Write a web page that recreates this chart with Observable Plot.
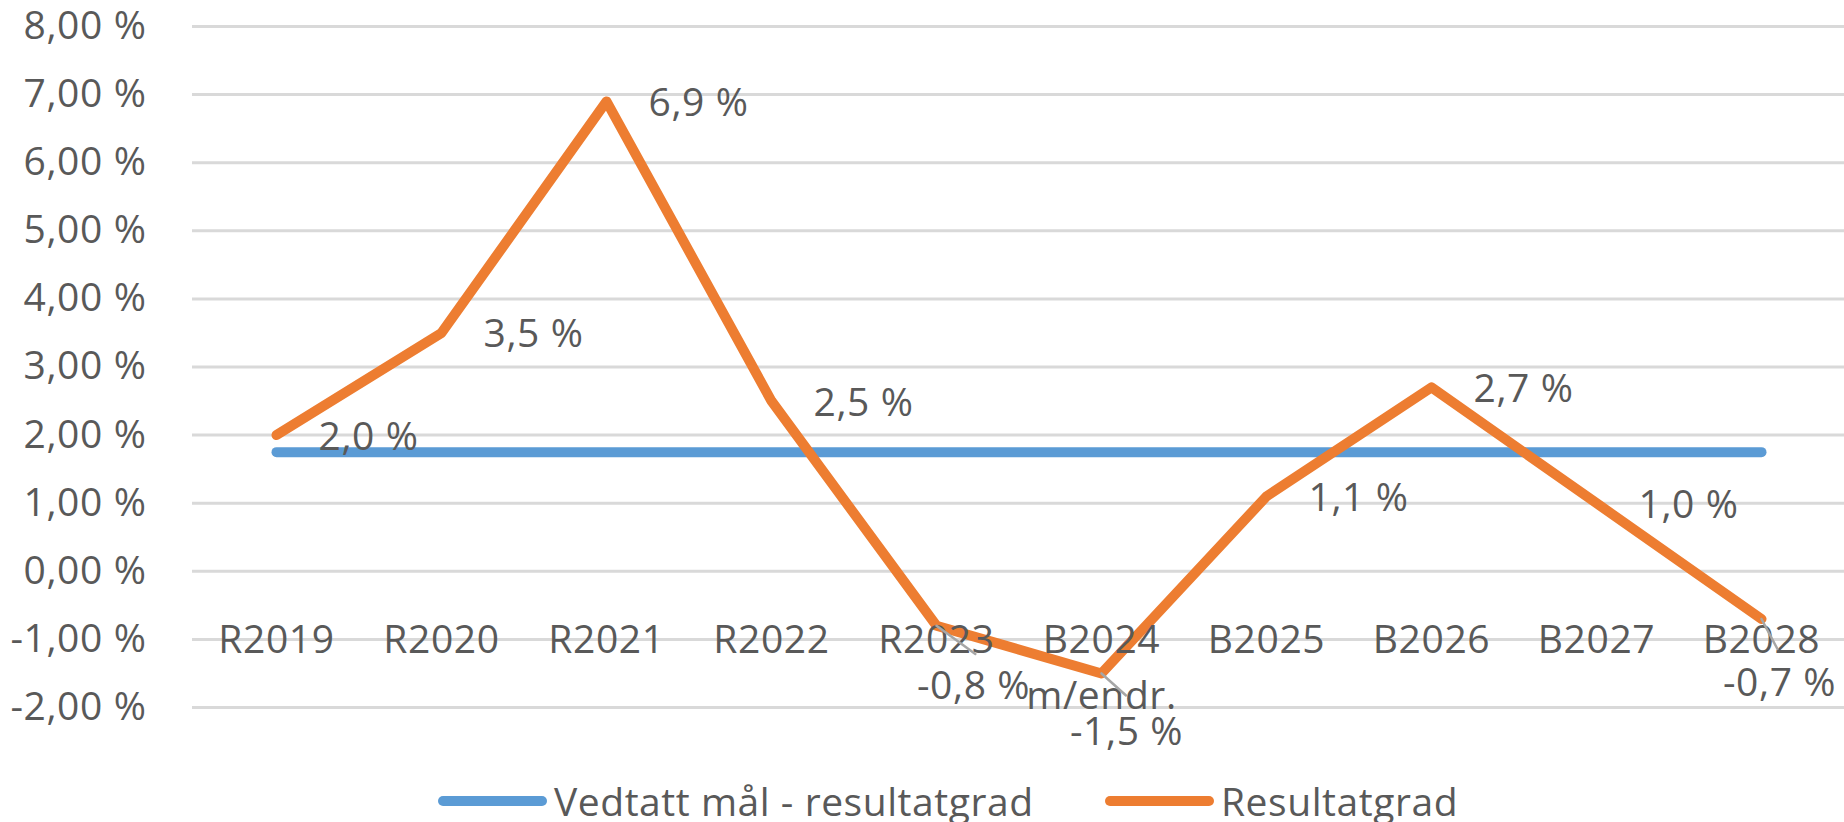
<!DOCTYPE html>
<html>
<head>
<meta charset="utf-8">
<script src="https://cdn.jsdelivr.net/npm/d3@7"></script>
<script src="https://cdn.jsdelivr.net/npm/@observablehq/plot@0.6"></script>
<style>
  html, body { margin: 0; padding: 0; background: #fff; }
  #wrap { position: relative; width: 1844px; height: 822px; font-family: "Open Sans", sans-serif; }
  .legend { position: absolute; top: 782px; left: 0; width: 1844px; height: 38px; font-size: 39px; line-height: 38px; color: #595959; letter-spacing: 0.55px; }
  .item { position: absolute; top: 0; height: 38px; display: flex; align-items: center; white-space: nowrap; }
  .swatch { display: inline-block; width: 109px; height: 10px; border-radius: 5px; margin-right: 7px; }
</style>
</head>
<body>
<div id="wrap">
  <div id="chart"></div>
  <div class="legend" id="legend"></div>
</div>
<script>
// ---- data ----
const categories = ["R2019", "R2020", "R2021", "R2022", "R2023", "B2024", "B2025", "B2026", "B2027", "B2028"];
const categoryLabels = ["R2019", "R2020", "R2021", "R2022", "R2023", "B2024\nm/endr.", "B2025", "B2026", "B2027", "B2028"];
const resultatgrad = [2.0, 3.5, 6.9, 2.5, -0.8, -1.5, 1.1, 2.7, 1.0, -0.7];
const vedtattMaal = [1.75, 1.75, 1.75, 1.75, 1.75, 1.75, 1.75, 1.75, 1.75, 1.75];
const yTicks = [-2, -1, 0, 1, 2, 3, 4, 5, 6, 7, 8];
const seriesNames = ["Vedtatt mål - resultatgrad", "Resultatgrad"];
const seriesColors = ["#5B9BD5", "#ED7D31"];

// ---- derived tables ----
const target = categories.map((c, i) => ({cat: c, value: vedtattMaal[i]}));
const result = categories.map((c, i) => ({cat: c, value: resultatgrad[i]}));

const fmtAxis = v => v.toFixed(2).replace(".", ",") + " %";
const fmtLabel = v => v.toFixed(1).replace(".", ",") + " %";

// label placement (styling): labels moved below the point, with leader lines
const belowNudge = {
  "R2023": {dx: 37, dy: 61, len: 48, rot: 126},
  "B2024": {dx: 25, dy: 59, len: 33, rot: 132},
  "B2028": {dx: 18, dy: 65, len: 34, rot: 152}
};

const lineShape = {
  draw(context, length) {
    context.moveTo(0, 0);
    context.lineTo(0, -length);
  }
};

const FS = 39;
const TXT = "#595959";

const marks = [
  Plot.ruleY(yTicks, {stroke: "#d9d9d9", strokeWidth: 3}),
  Plot.axisY(yTicks, {tickSize: 0, tickPadding: 46, tickFormat: fmtAxis, fontSize: FS, fill: TXT, label: null}),
  Plot.line(target, {x: "cat", y: "value", stroke: seriesColors[0], strokeWidth: 10, strokeLinecap: "round", strokeLinejoin: "round"}),
  Plot.line(result, {x: "cat", y: "value", stroke: seriesColors[1], strokeWidth: 10, strokeLinecap: "round", strokeLinejoin: "round"}),
  Plot.text(categories, {
    x: d => d, y: 0, text: (d, i) => categoryLabels[i],
    lineAnchor: "top", lineHeight: 1.43, dy: 42, fontSize: FS, fill: TXT, textAnchor: "middle"
  }),
  Plot.text(result.filter(d => !belowNudge[d.cat]), {
    x: "cat", y: "value", text: d => fmtLabel(d.value),
    textAnchor: "start", lineAnchor: "middle", dx: 42, dy: 2, fontSize: FS, fill: TXT
  })
];

for (const d of result.filter(d => belowNudge[d.cat])) {
  const n = belowNudge[d.cat];
  marks.push(Plot.vector([d], {x: "cat", y: "value", length: n.len, rotate: n.rot, anchor: "start", shape: lineShape, stroke: "#a6a6a6", strokeWidth: 2.5}));
  marks.push(Plot.text([d], {x: "cat", y: "value", text: e => fmtLabel(e.value), textAnchor: "middle", lineAnchor: "middle", dx: n.dx, dy: n.dy, fontSize: FS, fill: TXT}));
}

const chart = Plot.plot({
  width: 1844,
  height: 765,
  marginLeft: 192,
  marginRight: 0,
  marginTop: 26,
  marginBottom: 58,
  x: {type: "point", domain: categories, padding: 0.5, axis: null},
  y: {domain: [-2, 8], axis: null},
  style: {fontFamily: "'Open Sans', sans-serif", fontSize: FS + "px", color: TXT, background: "white", overflow: "visible", letterSpacing: "0.6px"},
  marks
});
document.getElementById("chart").appendChild(chart);

// ---- legend ----
const legend = document.getElementById("legend");
const legendLefts = [438, 1105];
seriesNames.forEach((name, i) => {
  const item = document.createElement("div");
  item.className = "item";
  item.style.left = legendLefts[i] + "px";
  const sw = document.createElement("span");
  sw.className = "swatch";
  sw.style.background = seriesColors[i];
  item.appendChild(sw);
  item.appendChild(document.createTextNode(name));
  legend.appendChild(item);
});
</script>
</body>
</html>
